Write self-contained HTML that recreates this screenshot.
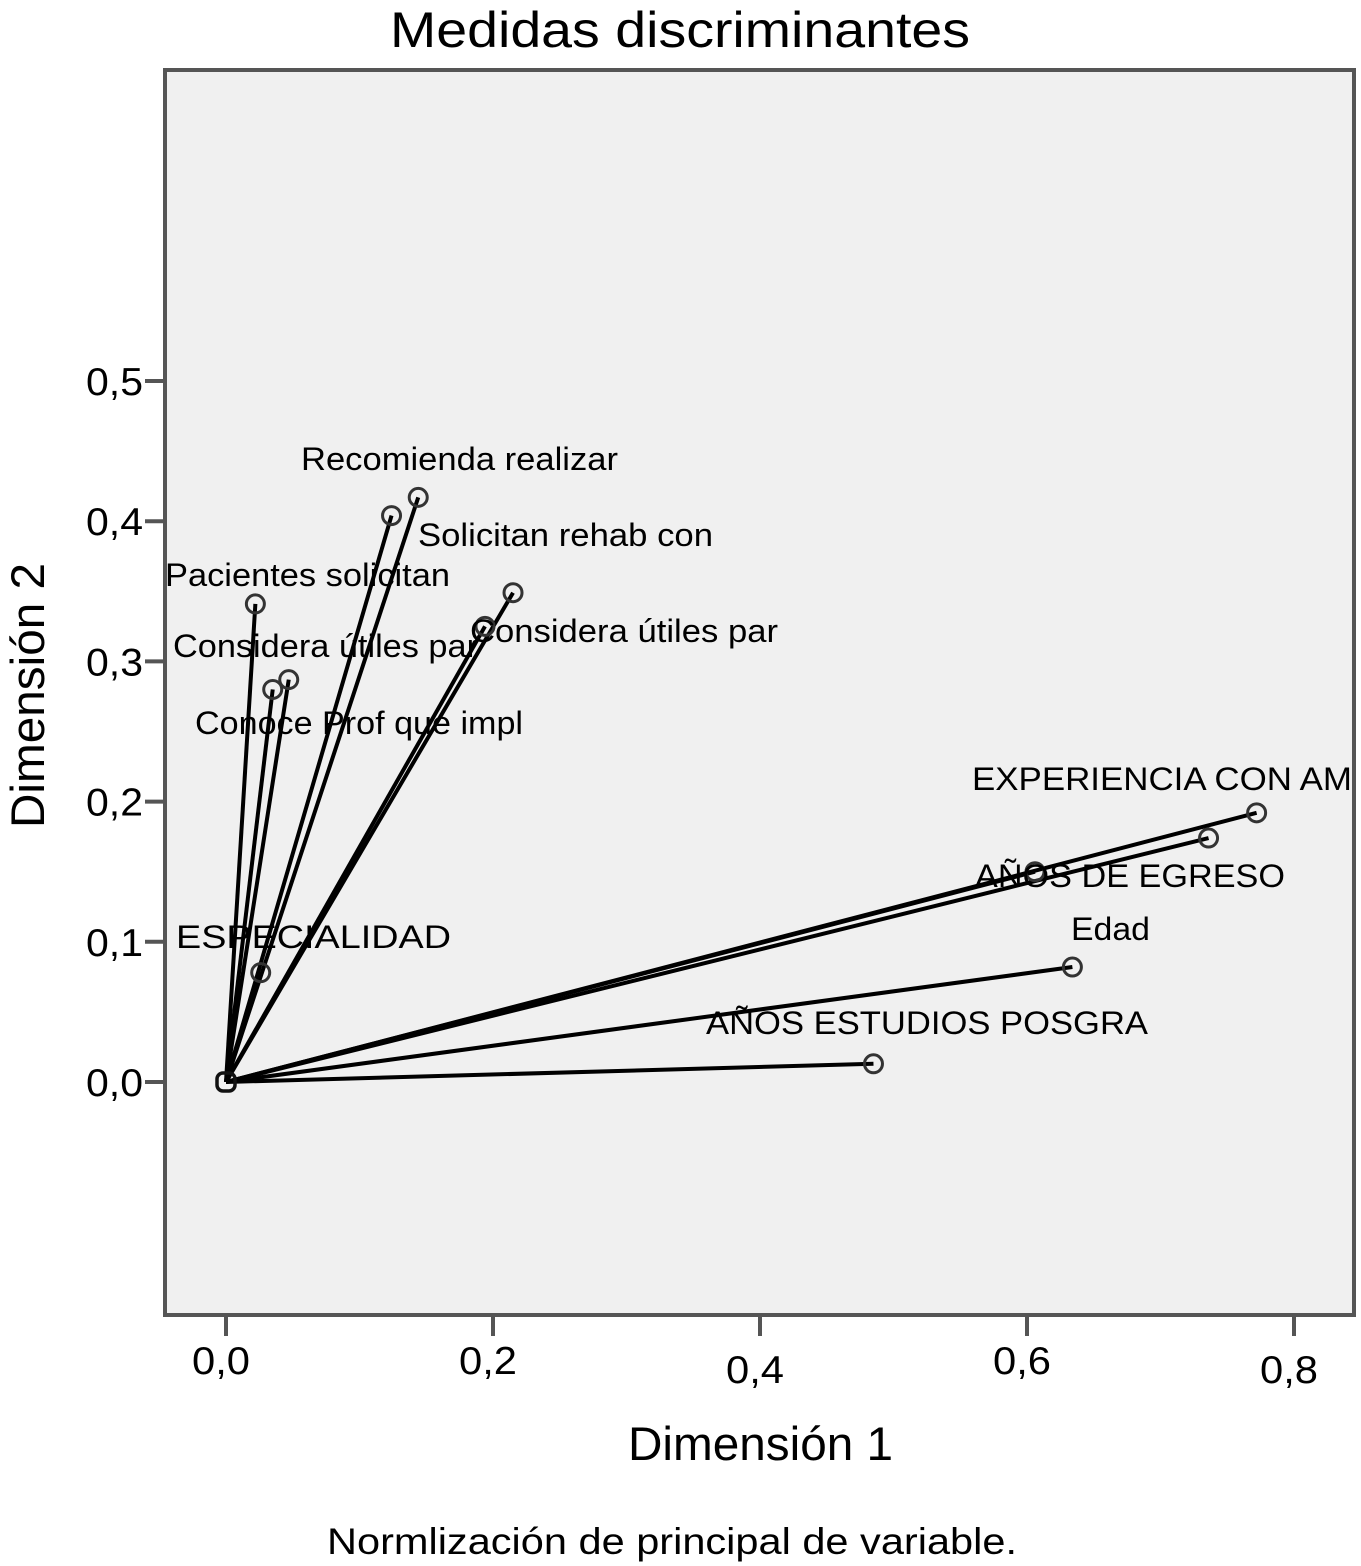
<!DOCTYPE html>
<html><head><meta charset="utf-8">
<style>
html,body{margin:0;padding:0;background:#fff;}
svg{display:block;font-family:"Liberation Sans",Arial,sans-serif;}
</style></head>
<body>
<svg id="chart" width="1361" height="1566" viewBox="0 0 1361 1566" xmlns="http://www.w3.org/2000/svg">
<text x="390" y="47" font-size="50" textLength="580" lengthAdjust="spacingAndGlyphs">Medidas discriminantes</text>
<rect x="165" y="70" width="1189" height="1245" fill="#f0f0f0" stroke="#555" stroke-width="4"/>
<g id="axes"></g>
<g id="marks"></g>
<text x="628" y="1460" font-size="47" textLength="265" lengthAdjust="spacingAndGlyphs">Dimensión 1</text>
<text transform="translate(44,828) rotate(-90)" font-size="47" textLength="265" lengthAdjust="spacingAndGlyphs">Dimensión 2</text>
<text x="327" y="1554" font-size="37" textLength="690" lengthAdjust="spacingAndGlyphs">Normlización de principal de variable.</text>
</svg>
<script>
const labels = ["Recomienda realizar","","Pacientes solicitan","Considera útiles par","","","Considera útiles par","ESPECIALIDAD","EXPERIENCIA CON AM","","AÑOS DE EGRESO","Edad","AÑOS ESTUDIOS POSGRA"];
const dim1 = [0.144,0.124,0.022,0.215,0.194,0.047,0.035,0.026,0.772,0.736,0.606,0.634,0.485];
const dim2 = [0.417,0.404,0.341,0.349,0.325,0.287,0.280,0.078,0.192,0.174,0.150,0.082,0.013];
const xTicks = [0,0.2,0.4,0.6,0.8];
const xTickLabels = ["0,0","0,2","0,4","0,6","0,8"];
const yTicks = [0,0.1,0.2,0.3,0.4,0.5];
const yTickLabels = ["0,0","0,1","0,2","0,3","0,4","0,5"];
// label layout (pixels), not data
const labelPos = [[301,470,317],[0,0,0],[165,586,285],[470,642,308],[0,0,0],[0,0,0],[173,657,305],[176,948,275],[972,790,380],[0,0,0],[975,887,310],[1071,940,79],[706,1034,442]];
const extraLabel = {text:"Solicitan rehab con", x:418, y:546, w:295};
const extraLabel2 = {text:"Conoce Prof que impl", x:195, y:734, w:328};

const NS="http://www.w3.org/2000/svg";
const xS = v => 226 + v*1335;
const yS = v => 1082 - v*1402;
const axes=document.getElementById('axes'), marks=document.getElementById('marks');
function mk(tag,attrs,parent){const e=document.createElementNS(NS,tag);for(const k in attrs)e.setAttribute(k,attrs[k]);parent.appendChild(e);return e;}

xTicks.forEach((t,i)=>{
  const l=mk('line',{x1:xS(t),x2:xS(t),y1:1316,y2:1336,stroke:'#555','stroke-width':4},axes);
  
  
  const tx=mk('text',{x:xS(t)-5,y:(i===2||i===4)?1383:1374,'font-size':39,'text-anchor':'middle',textLength:58,lengthAdjust:'spacingAndGlyphs'},axes);
  tx.textContent=xTickLabels[i];
  
  
});
yTicks.forEach((t,i)=>{
  const l=mk('line',{x1:145,x2:163,y1:yS(t),y2:yS(t),stroke:'#555','stroke-width':4},axes);
  
  
  const tx=mk('text',{x:143,y:yS(t)+14,'font-size':39,'text-anchor':'end',textLength:57,lengthAdjust:'spacingAndGlyphs'},axes);
  tx.textContent=yTickLabels[i];
  
  
});

dim1.forEach((v,i)=>{
  const ln=mk('line',{x1:xS(0),y1:yS(0),x2:xS(v),y2:yS(dim2[i]),stroke:'#000','stroke-width':4},marks);
  
  
});
const org=mk('rect',{x:xS(0)-9,y:yS(0)-9,width:18,height:18,rx:6,fill:'none',stroke:'#111','stroke-width':3.5},marks);


dim1.forEach((v,i)=>{
  const c=mk('circle',{cx:xS(v),cy:yS(dim2[i]),r:9,fill:'none',stroke:'#333','stroke-width':3},marks);
  
  
});
labels.forEach((s,i)=>{
  if(!s) return;
  const p=labelPos[i];
  const t=mk('text',{x:p[0],y:p[1],'font-size':32,textLength:p[2],lengthAdjust:'spacingAndGlyphs'},marks);
  t.textContent=s;
  
  
});
[extraLabel,extraLabel2].forEach(e=>{
  const t=mk('text',{x:e.x,y:e.y,'font-size':32,textLength:e.w,lengthAdjust:'spacingAndGlyphs'},marks);
  t.textContent=e.text;
  
  
});
</script>
</body></html>
